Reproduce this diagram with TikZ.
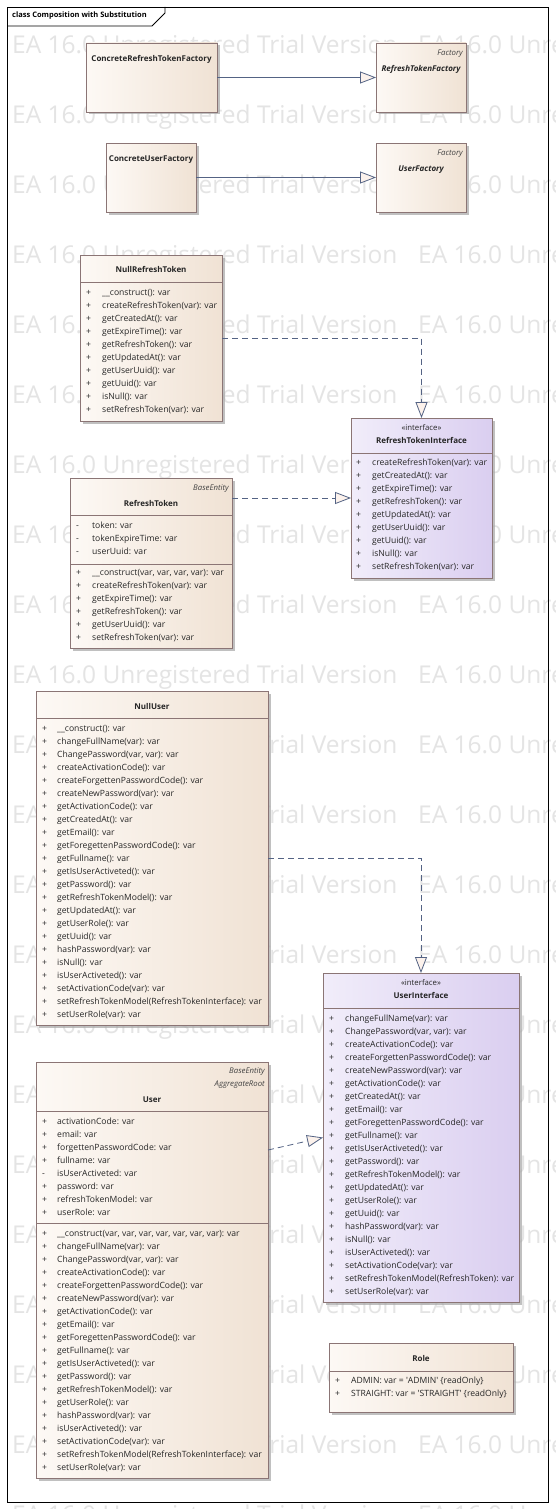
\documentclass[tikz,border=0pt]{standalone}
\usepackage{fontspec}
\setmainfont{Open Sans}
\usetikzlibrary{arrows.meta}
\usetikzlibrary{shadows}
\definecolor{edge}{RGB}{139,117,117}
\definecolor{beigeL}{RGB}{253,249,245}
\definecolor{beigeR}{RGB}{240,226,212}
\definecolor{lilacL}{RGB}{241,237,250}
\definecolor{lilacR}{RGB}{218,206,240}
\definecolor{wire}{RGB}{84,99,132}
\definecolor{tipfill}{RGB}{252,242,236}
\definecolor{wmgray}{RGB}{228,228,228}
\tikzset{classbox/.style = {draw=edge, line width=0.9pt, left color=beigeL, right color=beigeR,
                            anchor=north west, inner sep=0, outer sep=0,
                            drop shadow={shadow xshift=2.5pt, shadow yshift=-2.5pt, fill=black!35, opacity=0.7}}}
\tikzset{ifacebox/.style = {classbox, left color=lilacL, right color=lilacR}}
\tikzset{divider/.style = {draw=edge, line width=0.9pt}}
\tikzset{member/.style = {anchor=west, inner sep=0, text height=6pt, text depth=1.5pt, text=black!85}}
\tikzset{cname/.style = {inner sep=0, font=\bfseries\fontsize{8}{9}\selectfont, text height=6pt, text depth=1.5pt, text=black!85}}
\tikzset{stereo/.style = {inner sep=0, anchor=east, font=\itshape\fontsize{7.8}{9}\selectfont, text height=6pt, text depth=1.5pt, text=black!75}}
\tikzset{gen/.style = {draw=wire, line width=0.8pt, -{Triangle[length=16pt, width=12pt, fill=tipfill]}}}
\tikzset{realize/.style = {gen, dash pattern=on 6pt off 4pt}}
\tikzset{watermark/.style = {anchor=west, inner sep=0, text=wmgray, font=\fontsize{24.5}{24.5}\selectfont}}

\begin{document}
\begin{tikzpicture}[x=1pt, y=-1pt, font=\fontsize{8.6}{9}\selectfont]
  \useasboundingbox (0,0) rectangle (555,1509);
  \clip (0,0) rectangle (555,1509);
  \fill[white] (0,0) rectangle (555,1509);
  \foreach \k in {0,...,21} {
    \node[watermark] (wma\k) at (12,47+70*\k) {EA 16.0 Unregistered Trial Version};
    \node[watermark] (wmb\k) at (418,47+70*\k) {EA 16.0 Unregistered Trial Version};
  }
  \draw[line width=0.9pt] (7,7) rectangle (548,1502);
  \draw[line width=0.9pt] (7,26) -- (152,26) -- (165,13) -- (165,7);
  \node[anchor=west, inner sep=0, font=\bfseries\fontsize{7.5}{9}\selectfont] (title) at (12,16) {class Composition with Substitution};

  \node[classbox, minimum width=131pt, minimum height=69pt] (crtf) at (86,43) {};
  \node[cname] (crtfn) at (151.5,59) {ConcreteRefreshTokenFactory};
  \node[classbox, minimum width=90pt, minimum height=69pt] (rtf) at (376,43) {};
  \node[stereo] (rtfs) at (463,53) {Factory};
  \node[cname, font=\bfseries\itshape\fontsize{8}{9}\selectfont] (rtfn) at (421,69) {RefreshTokenFactory};

  \node[classbox, minimum width=90pt, minimum height=69pt] (cuf) at (106,143) {};
  \node[cname] (cufn) at (151,159) {ConcreteUserFactory};
  \node[classbox, minimum width=90pt, minimum height=69pt] (uf) at (376,143) {};
  \node[stereo] (ufs) at (463,153) {Factory};
  \node[cname, font=\bfseries\itshape\fontsize{8}{9}\selectfont] (ufn) at (421,169) {UserFactory};

  \draw[gen] (crtf) -- (rtf);
  \draw[gen] (cuf) -- (uf);

  \node[classbox, minimum width=142pt, minimum height=166pt] (nrt) at (80,255) {};
  \node[cname] (nrtn) at (151,270) {NullRefreshToken};
  \draw[divider] (80,282) -- (222,282);
  \foreach \txt [count=\i from 0] in {\_\_construct(): var, createRefreshToken(var): var, getCreatedAt(): var,
      getExpireTime(): var, getRefreshToken(): var, getUpdatedAt(): var, getUserUuid(): var,
      getUuid(): var, isNull(): var, setRefreshToken(var): var} {
    \node[member] (nrtv\i) at (86,293+13*\i) {+};
    \node[member] (nrtm\i) at (102,293+13*\i) {\txt};
  }

  \node[ifacebox, minimum width=141pt, minimum height=160pt] (rti) at (351,418) {};
  \node[cname, font=\fontsize{7.8}{9}\selectfont] (rtis) at (421.5,428) {«interface»};
  \node[cname] (rtin) at (421.5,441) {RefreshTokenInterface};
  \draw[divider] (351,453) -- (492,453);
  \foreach \txt [count=\i from 0] in {createRefreshToken(var): var, getCreatedAt(): var, getExpireTime(): var,
      getRefreshToken(): var, getUpdatedAt(): var, getUserUuid(): var, getUuid(): var,
      isNull(): var, setRefreshToken(var): var} {
    \node[member] (rtiv\i) at (356,463+13*\i) {+};
    \node[member] (rtim\i) at (372,463+13*\i) {\txt};
  }

  \node[classbox, minimum width=162pt, minimum height=170pt] (rt) at (70,478) {};
  \node[stereo] (rts) at (229,488) {BaseEntity};
  \node[cname] (rtn) at (151,504) {RefreshToken};
  \draw[divider] (70,515) -- (232,515);
  \foreach \txt [count=\i from 0] in {token: var, tokenExpireTime: var, userUuid: var} {
    \node[member] (rtav\i) at (76,526+13*\i) {-};
    \node[member] (rta\i) at (92,526+13*\i) {\txt};
  }
  \draw[divider] (70,564) -- (232,564);
  \foreach \txt [count=\i from 0] in {{\_\_construct(var, var, var, var): var}, createRefreshToken(var): var,
      getExpireTime(): var, getRefreshToken(): var, getUserUuid(): var, setRefreshToken(var): var} {
    \node[member] (rtv\i) at (76,573+13*\i) {+};
    \node[member] (rtm\i) at (92,573+13*\i) {\txt};
  }

  \draw[realize] (nrt.east) -| (rti.north);
  \coordinate (rtout) at ([yshift=-20pt]rt.north east);
  \draw[realize] (rtout) -- (rtout -| rti.west);

  \node[classbox, minimum width=232pt, minimum height=334pt] (nu) at (36,691) {};
  \node[cname] (nun) at (152,707) {NullUser};
  \draw[divider] (36,718) -- (268,718);
  \foreach \txt [count=\i from 0] in {\_\_construct(): var, changeFullName(var): var, {ChangePassword(var, var): var},
      createActivationCode(): var, createForgettenPasswordCode(): var, createNewPassword(var): var,
      getActivationCode(): var, getCreatedAt(): var, getEmail(): var, getForegettenPasswordCode(): var,
      getFullname(): var, getIsUserActiveted(): var, getPassword(): var, getRefreshTokenModel(): var,
      getUpdatedAt(): var, getUserRole(): var, getUuid(): var, hashPassword(var): var, isNull(): var,
      isUserActiveted(): var, setActivationCode(var): var, setRefreshTokenModel(RefreshTokenInterface): var,
      setUserRole(var): var} {
    \node[member] (nuv\i) at (42,729+13*\i) {+};
    \node[member] (num\i) at (57,729+13*\i) {\txt};
  }

  \node[ifacebox, minimum width=196pt, minimum height=329pt] (ui) at (323,973) {};
  \node[cname, font=\fontsize{7.8}{9}\selectfont] (uis) at (421,983) {«interface»};
  \node[cname] (uin) at (421,996) {UserInterface};
  \draw[divider] (323,1008) -- (519,1008);
  \foreach \txt [count=\i from 0] in {changeFullName(var): var, {ChangePassword(var, var): var},
      createActivationCode(): var, createForgettenPasswordCode(): var, createNewPassword(var): var,
      getActivationCode(): var, getCreatedAt(): var, getEmail(): var, getForegettenPasswordCode(): var,
      getFullname(): var, getIsUserActiveted(): var, getPassword(): var, getRefreshTokenModel(): var,
      getUpdatedAt(): var, getUserRole(): var, getUuid(): var, hashPassword(var): var, isNull(): var,
      isUserActiveted(): var, setActivationCode(var): var, setRefreshTokenModel(RefreshToken): var,
      setUserRole(var): var} {
    \node[member] (uiv\i) at (329,1019+13*\i) {+};
    \node[member] (uim\i) at (345,1019+13*\i) {\txt};
  }

  \node[classbox, minimum width=232pt, minimum height=416pt] (u) at (36,1062) {};
  \node[stereo] (us1) at (265,1071) {BaseEntity};
  \node[stereo] (us2) at (265,1084) {AggregateRoot};
  \node[cname] (un) at (152,1100) {User};
  \draw[divider] (36,1111) -- (268,1111);
  \foreach \vis/\txt [count=\i from 0] in {+/activationCode: var, +/email: var, +/forgettenPasswordCode: var,
      +/fullname: var, -/isUserActiveted: var, +/password: var, +/refreshTokenModel: var, +/userRole: var} {
    \node[member] (uav\i) at (42,1122+13*\i) {\vis};
    \node[member] (ua\i) at (57,1122+13*\i) {\txt};
  }
  \draw[divider] (36,1223) -- (268,1223);
  \foreach \txt [count=\i from 0] in {{\_\_construct(var, var, var, var, var, var, var): var}, changeFullName(var): var,
      {ChangePassword(var, var): var}, createActivationCode(): var, createForgettenPasswordCode(): var,
      createNewPassword(var): var, getActivationCode(): var, getEmail(): var, getForegettenPasswordCode(): var,
      getFullname(): var, getIsUserActiveted(): var, getPassword(): var, getRefreshTokenModel(): var,
      getUserRole(): var, hashPassword(var): var, isUserActiveted(): var, setActivationCode(var): var,
      setRefreshTokenModel(RefreshTokenInterface): var, setUserRole(var): var} {
    \node[member] (uv\i) at (42,1234+13*\i) {+};
    \node[member] (um\i) at (57,1234+13*\i) {\txt};
  }

  \draw[realize] (nu.east) -| (ui.north);
  \coordinate (uout) at ([yshift=-88pt]u.north east);
  \draw[realize] (uout) -- (ui.west);

  \node[classbox, minimum width=184pt, minimum height=69pt] (role) at (329,1343) {};
  \node[cname] (rolen) at (421,1359) {Role};
  \draw[divider] (329,1371) -- (513,1371);
  \node[member] (rolev0) at (335,1381) {+};
  \node[member] (rolem0) at (351,1381) {ADMIN: var = \textquotesingle ADMIN\textquotesingle{} \{readOnly\}};
  \node[member] (rolev1) at (335,1394.5) {+};
  \node[member] (rolem1) at (351,1394.5) {STRAIGHT: var = \textquotesingle STRAIGHT\textquotesingle{} \{readOnly\}};
\end{tikzpicture}
\end{document}
